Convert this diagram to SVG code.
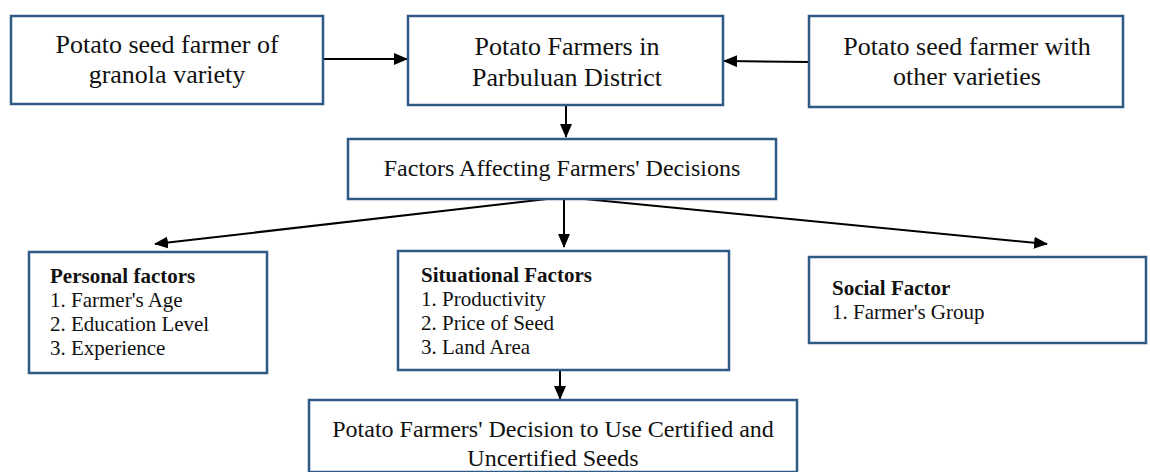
<svg xmlns="http://www.w3.org/2000/svg" width="1150" height="472" viewBox="0 0 1150 472">
<style>
.box{fill:#fff;stroke:#2f5a86;stroke-width:2.5}
.t{font-family:"Liberation Serif","Times New Roman",serif;fill:#111}
.big{font-size:26px}
.mid{font-size:24px}
.sm{font-size:21px}
.b{font-weight:bold}
.c{text-anchor:middle}
.ln{stroke:#000;stroke-width:2;fill:none}
</style>
<defs>
<marker id="ah" viewBox="0 0 14 12" refX="13" refY="6" markerWidth="14" markerHeight="12" markerUnits="userSpaceOnUse" orient="auto">
<path d="M0,0 L14,6 L0,12 Z" fill="#000"/>
</marker>
</defs>
<rect width="1150" height="472" fill="#fff"/>
<g id="connectors">
<line class="ln" x1="323" y1="59" x2="407" y2="59" marker-end="url(#ah)"/>
<line class="ln" x1="809" y1="62" x2="724" y2="61" marker-end="url(#ah)"/>
<line class="ln" x1="566" y1="106" x2="566" y2="137" marker-end="url(#ah)"/>
<line class="ln" x1="564" y1="197" x2="155" y2="244" marker-end="url(#ah)"/>
<line class="ln" x1="564" y1="197" x2="564" y2="247" marker-end="url(#ah)"/>
<line class="ln" x1="564" y1="197" x2="1047" y2="244" marker-end="url(#ah)"/>
<line class="ln" x1="560" y1="371" x2="560" y2="399" marker-end="url(#ah)"/>
</g>
<g id="granola">
<rect class="box" x="11" y="16" width="312" height="88"/>
<text class="t big c" x="167" y="53">Potato seed farmer of</text>
<text class="t big c" x="167" y="83">granola variety</text>
</g>
<g id="parbuluan">
<rect class="box" x="408" y="16" width="315" height="89"/>
<text class="t big c" x="567" y="55">Potato Farmers in</text>
<text class="t big c" x="567" y="86">Parbuluan District</text>
</g>
<g id="other">
<rect class="box" x="809" y="16" width="314" height="91"/>
<text class="t big c" x="967" y="55">Potato seed farmer with</text>
<text class="t big c" x="967" y="85">other varieties</text>
</g>
<g id="factors">
<rect class="box" x="348" y="139" width="428" height="60"/>
<text class="t mid c" x="562" y="176">Factors Affecting Farmers' Decisions</text>
</g>
<g id="personal">
<rect class="box" x="29" y="252" width="238" height="121"/>
<text class="t sm b" x="50" y="283">Personal factors</text>
<text class="t sm" x="50" y="307">1. Farmer's Age</text>
<text class="t sm" x="50" y="331">2. Education Level</text>
<text class="t sm" x="50" y="355">3. Experience</text>
</g>
<g id="situational">
<rect class="box" x="398" y="251" width="331" height="119"/>
<text class="t sm b" x="421" y="282">Situational Factors</text>
<text class="t sm" x="421" y="306">1. Productivity</text>
<text class="t sm" x="421" y="330">2. Price of Seed</text>
<text class="t sm" x="421" y="354">3. Land Area</text>
</g>
<g id="social">
<rect class="box" x="809" y="257" width="337" height="86"/>
<text class="t sm b" x="832" y="295">Social Factor</text>
<text class="t sm" x="832" y="319">1. Farmer's Group</text>
</g>
<g id="decision">
<rect class="box" x="309" y="400" width="488" height="72"/>
<text class="t mid c" x="553" y="437">Potato Farmers' Decision to Use Certified and</text>
<text class="t mid c" x="553" y="466">Uncertified Seeds</text>
</g>
</svg>
